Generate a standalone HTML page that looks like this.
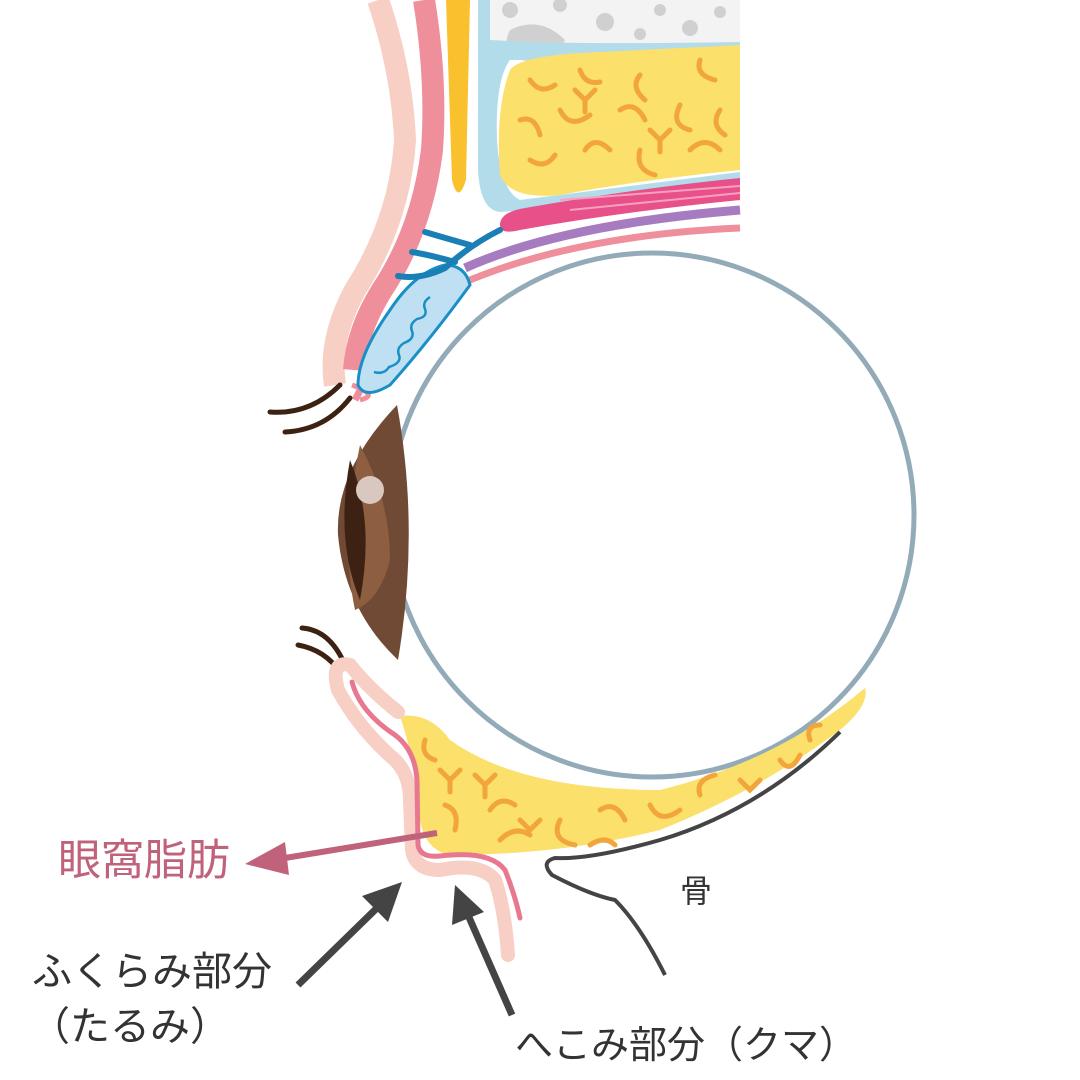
<!DOCTYPE html>
<html><head><meta charset="utf-8"><style>
html,body{margin:0;padding:0;background:#fff}
svg{display:block}
text{font-family:"Liberation Sans","Noto Sans CJK JP",sans-serif}
</style></head><body>
<svg width="1080" height="1080" viewBox="0 0 1080 1080">
<path d="M488 0 H740 V45 H488 Z" fill="#f3f3f3"/>
<circle cx="510" cy="10" r="8" fill="#d0d0d0"/><circle cx="560" cy="5" r="7" fill="#d0d0d0"/><circle cx="605" cy="22" r="9" fill="#d0d0d0"/><circle cx="660" cy="10" r="6" fill="#d0d0d0"/><circle cx="690" cy="28" r="8" fill="#d0d0d0"/><circle cx="720" cy="12" r="6" fill="#d0d0d0"/><circle cx="640" cy="34" r="6" fill="#d0d0d0"/>
<path d="M510 30 Q540 15 565 40 Q555 65 520 60 Q500 50 510 30Z" fill="#d0d0d0"/>
<path d="M478 0 H490 V40 Q570 45 740 42 V48 Q600 60 510 60 Q495 80 497 140 Q500 190 520 200 L740 172 V180 Q600 205 500 212 Q480 210 478 170 Z" fill="#b3dcea"/>
<path d="M510 70 Q520 55 600 52 Q680 48 740 45 V170 Q640 180 560 195 Q510 200 500 175 Q495 110 510 70Z" fill="#fbe06b"/>
<g fill="none" stroke="#f2a53a" stroke-width="5" stroke-linecap="round">
<path d="M530 80 q10 15 25 5"/><path d="M580 70 q5 15 20 12"/><path d="M640 75 q-10 12 5 25"/><path d="M700 60 q-5 15 15 20"/><path d="M520 120 q15 -5 20 15"/><path d="M560 110 q10 20 30 5"/><path d="M620 110 q15 -10 25 10"/><path d="M680 105 q-10 20 10 25"/><path d="M720 110 q-10 15 5 25"/><path d="M530 160 q15 10 25 -5"/><path d="M585 150 q10 -15 25 0"/><path d="M640 150 q-5 20 15 25"/><path d="M690 150 q15 -15 30 0"/><path d="M575 90 l10 10 l10 -10 M585 100 v12"/><path d="M650 130 l10 10 l10 -10 M660 140 v12"/>
</g>
<path d="M500 225 Q500 212 525 208 Q640 188 740 178 V200 Q620 212 520 230 Q500 235 500 225Z" fill="#e8508a"/>
<path d="M560 200 L740 186 M570 210 L740 193" stroke="#f7a0c0" stroke-width="2"/>
<path d="M465 268 Q560 225 740 210" fill="none" stroke="#a77bbf" stroke-width="9"/>
<path d="M355 400 Q395 320 470 280 Q580 235 740 228" fill="none" stroke="#ef8f9c" stroke-width="7"/>
<path d="M378 0 Q402 70 405 140 Q400 220 355 290 Q328 340 335 385" fill="none" stroke="#f8cfc4" stroke-width="22"/>
<path d="M424 0 Q437 80 432 150 Q422 230 382 290 Q357 330 354 370" fill="none" stroke="#ef8f9c" stroke-width="22"/>
<path d="M446 0 L470 0 L466 180 Q458 205 452 180 Z" fill="#f9c12e"/>
<path d="M352 385 Q380 395 360 400" fill="none" stroke="#ef8f9c" stroke-width="5"/>
<path d="M470 285 Q465 265 445 265 Q415 272 390 310 Q358 355 358 385 Q365 400 390 385 Q430 340 470 285Z" fill="#bfe0f2" stroke="#1a8fc7" stroke-width="3"/>
<path d="M430 297 q-8 5 -5 12 q3 8 -8 10 q-8 5 -5 12 q3 8 -8 12 q-8 5 -5 12 q3 8 -10 12 q-5 8 -15 5" fill="none" stroke="#1a8fc7" stroke-width="2.5"/>
<g fill="none" stroke="#1a7fb5" stroke-width="6" stroke-linecap="round">
<path d="M500 230 Q470 245 445 268 Q420 280 398 276"/><path d="M470 245 Q445 238 425 232"/><path d="M455 262 Q430 255 412 252"/>
</g>
<circle cx="652" cy="515" r="262" fill="#fff" stroke="#93aab8" stroke-width="5"/>
<path d="M397 405 Q335 470 338 535 Q345 610 398 660 Q420 530 397 405Z" fill="#704a35"/>
<path d="M360 445 Q390 500 390 560 Q380 600 355 610 Q340 540 360 445Z" fill="#8e5e40"/>
<path d="M350 460 Q375 520 360 600 Q335 540 350 460Z" fill="#3d2214"/>
<circle cx="370" cy="490" r="14" fill="#d9c8c0"/>
<g fill="none" stroke="#3d2214" stroke-width="5" stroke-linecap="round">
<path d="M340 385 Q310 415 270 412"/><path d="M350 398 Q325 430 285 432"/>
<path d="M345 665 Q330 630 302 628"/><path d="M340 672 Q325 650 298 645"/>
</g>
<path d="M400 716 Q430 712 450 740 Q520 790 660 790 Q780 760 865 688 Q870 705 840 730 Q760 790 660 830 Q560 855 450 855 Q425 850 420 820 Q415 760 400 716Z" fill="#fbe06b"/>
<g fill="none" stroke="#f2a53a" stroke-width="5" stroke-linecap="round">
<path d="M425 740 q-5 15 10 20"/><path d="M440 770 l10 10 l10 -10 M450 780 v12"/><path d="M475 775 l10 10 l10 -10 M485 785 v12"/><path d="M445 805 q15 5 10 25"/><path d="M490 810 q10 -15 25 -5"/><path d="M520 820 l10 10 l10 -10"/><path d="M500 840 q15 -15 30 -5"/><path d="M560 820 q-10 20 15 25"/><path d="M600 810 q15 -10 25 10"/><path d="M650 805 q10 20 30 5"/><path d="M700 795 q-5 -15 15 -20"/><path d="M740 780 l10 10 l10 -10"/><path d="M780 760 q10 15 20 -5"/><path d="M810 740 q-5 -15 10 -15"/><path d="M590 845 q15 -10 25 0"/>
</g>
<path d="M398 712 Q370 690 350 665 Q330 660 338 690 Q360 730 395 760 Q410 775 410 800 L412 850 Q415 870 440 870 Q480 862 495 880 Q505 910 508 955" fill="none" stroke="#f8cfc4" stroke-width="14" stroke-linecap="round"/>
<path d="M352 682 Q360 712 395 735 Q415 750 417 780 L418 845 Q420 858 440 856 Q490 850 505 870 Q515 895 520 918" fill="none" stroke="#e8788f" stroke-width="5" stroke-linecap="round"/>
<path d="M840 732 Q760 810 660 840 Q590 860 555 858 Q540 862 552 875 Q590 895 615 900 Q640 925 665 975" fill="none" stroke="#444" stroke-width="4"/>
<path d="M437 833 L285 858" stroke="#c0637a" stroke-width="6"/>
<path d="M245 864 L285 842 L289 875Z" fill="#c0637a"/>
<text x="58" y="875" font-size="43" fill="#c0637a">眼窩脂肪</text>
<path d="M298 985 L380 905" stroke="#444" stroke-width="7"/>
<path d="M402 882 L362 896 L388 922Z" fill="#444"/>
<path d="M512 1015 L468 915" stroke="#444" stroke-width="7"/>
<path d="M455 885 L452 925 L484 912Z" fill="#444"/>
<text x="680" y="902" font-size="32" fill="#333">骨</text>
<text x="32" y="985" font-size="40" fill="#333">ふくらみ部分</text>
<text x="30" y="1040" font-size="40" fill="#333">（たるみ）</text>
<text x="515" y="1058" font-size="38" fill="#333">へこみ部分（クマ）</text>
</svg>
</body></html>
